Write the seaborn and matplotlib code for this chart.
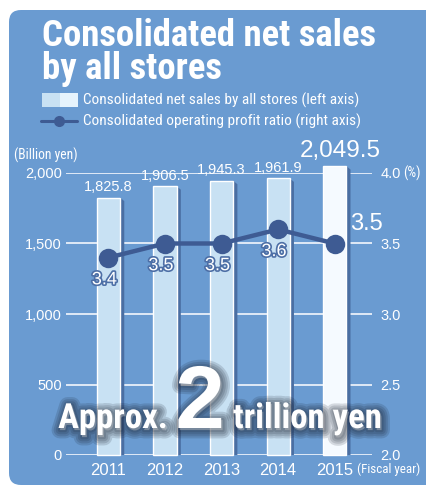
import matplotlib
matplotlib.use("Agg")
import matplotlib.pyplot as plt
from matplotlib.patches import FancyBboxPatch, Rectangle, Polygon
from matplotlib.lines import Line2D
from matplotlib.transforms import Affine2D
import matplotlib.patheffects as pe
import numpy as np
import pandas as pd
import seaborn as sns

# ---- data ----
years = ["2011", "2012", "2013", "2014", "2015"]
net_sales = [1825.8, 1906.5, 1945.3, 1961.9, 2049.5]          # billion yen
profit_ratio = [3.4, 3.5, 3.5, 3.6, 3.5]                       # %
sales_ticks = [0, 500, 1000, 1500, 2000]
ratio_ticks = [2.0, 2.5, 3.0, 3.5, 4.0]

# ---- style ----
W, H = 427, 487
PANEL = "#6a9bd1"
BAR = "#c8e1f3"
BAR_LAST = "#f5faff"
SHADE = "#4a6ea2"
NAVY = "#3e5b93"
GRID = "#e9f0f9"
TXT = "#ffffff"

sns.set_theme(style="white")
plt.rcParams["font.family"] = ["Liberation Sans", "DejaVu Sans"]
NARROW = dict(family=["Roboto Condensed", "Liberation Sans Narrow", "DejaVu Sans"],
              stretch="condensed")

fig = plt.figure(figsize=(W / 100, H / 100), dpi=100)
fig.patch.set_facecolor("white")
# pixel coordinates measured from the top-left corner
pix = Affine2D().scale(1 / W, -1 / H).translate(0, 1) + fig.transFigure

panel = FancyBboxPatch((9, 10), 440, 475, boxstyle="round,pad=0,rounding_size=12",
                       transform=pix, facecolor=PANEL, edgecolor="none", zorder=-5)
fig.patches.append(panel)

ax = fig.add_axes([66 / W, 1 - 455 / H, (372 - 66) / W, (455 - 173) / H])
ax.set_facecolor("none")
for s in ax.spines.values():
    s.set_visible(False)

df = pd.DataFrame({"year": years, "sales": net_sales})
colors = [BAR] * (len(years) - 1) + [BAR_LAST]
sns.barplot(data=df, x="year", y="sales", hue="year", palette=colors, legend=False,
            width=0.41, saturation=1, ax=ax, zorder=3)

for v in sales_ticks:
    ax.axhline(v, color=GRID, lw=1.3, zorder=1)

# dark side face on the right of each bar
for p in ax.patches[:len(years)]:
    p.set_clip_on(False)
    x0 = p.get_x() + p.get_width()
    h = p.get_height()
    d = 0.075
    ax.add_patch(Polygon([(x0, h), (x0 + d, h - 25), (x0 + d, 0), (x0, 0)],
                         closed=True, facecolor=SHADE, edgecolor="none", zorder=2.5,
                         clip_on=False))

ax.set_xlim(-0.75, 4.66)
ax.set_ylim(0, 2000)
ax.set_yticks(sales_ticks)
ax.set_yticklabels([f"{v:,}" for v in sales_ticks])
ax.set_xlabel("")
ax.set_ylabel("")
ax.tick_params(axis="y", length=0, pad=3, labelsize=10.5, labelcolor=TXT)
ax.tick_params(axis="x", length=0, pad=6, labelsize=12, labelcolor=TXT)

# sales value labels
for i, v in enumerate(net_sales):
    last = i == len(net_sales) - 1
    ax.annotate(f"{v:,.1f}", (i, v), xytext=(4 if last else 0, 6.5 if last else 4.5),
                textcoords="offset points", ha="center", va="baseline",
                fontsize=17.5 if last else 10.5, color=TXT, zorder=6,
                annotation_clip=False)

# profit ratio line on the right axis
ax2 = ax.twinx()
ax2.set_facecolor("none")
for s in ax2.spines.values():
    s.set_visible(False)
sns.lineplot(x=np.arange(len(years)), y=profit_ratio, ax=ax2, color=NAVY, lw=3.2,
             marker="o", markersize=14, markeredgewidth=0, sort=False, zorder=5)
ax2.set_ylim(2.0, 4.0)
ax2.set_yticks(ratio_ticks)
ax2.set_yticklabels([f"{v:.1f}" for v in ratio_ticks])
ax2.tick_params(axis="y", length=0, pad=6, labelsize=10.5, labelcolor=TXT)
ax2.set_ylabel("")
ax2.set_xlim(-0.75, 4.66)

outline = [pe.Stroke(linewidth=2.4, foreground="#4d6fa6"), pe.Normal()]
for i, v in enumerate(profit_ratio):
    if i == len(profit_ratio) - 1:
        ax2.annotate(f"{v:.1f}", (i, v), xytext=(23, 9.5), textcoords="offset points",
                     ha="center", va="baseline", fontsize=17, color=TXT,
                     annotation_clip=False)
    else:
        ax2.annotate(f"{v:.1f}", (i, v), xytext=(-3, -16), textcoords="offset points",
                     ha="center", va="center", fontsize=13, color=TXT,
                     path_effects=outline, zorder=7)

# units
fig.text(14 / W, 1 - 155 / H, "(Billion yen)", **NARROW, fontsize=9.8, color=TXT,
         ha="left", va="center")
fig.text(403 / W, 1 - 173 / H, "(%)", **NARROW, fontsize=10, color=TXT,
         ha="left", va="center")
fig.text(357 / W, 1 - 473 / H, "(Fiscal year)", **NARROW, fontsize=9.4, color=TXT,
         ha="left", va="baseline")

# title
fig.text(42 / W, 1 - 46 / H, "Consolidated net sales", **NARROW, weight="bold",
         fontsize=26.5, color=TXT, ha="left", va="baseline")
fig.text(42 / W, 1 - 79 / H, "by all stores", **NARROW, weight="bold",
         fontsize=26.5, color=TXT, ha="left", va="baseline")

# legend
fig.patches.append(Rectangle((42, 93), 18, 14, transform=pix, facecolor=BAR,
                             edgecolor="none", zorder=2))
fig.patches.append(Rectangle((60, 93), 18, 14, transform=pix, facecolor="#e6f3fc",
                             edgecolor="none", zorder=2))
fig.lines.append(Line2D([41, 77], [121, 121], transform=pix, color=NAVY, lw=2.2,
                        zorder=2))
fig.lines.append(Line2D([59], [121], transform=pix, color=NAVY, marker="o",
                        markersize=8, markeredgewidth=0, zorder=2))
fig.text(83 / W, 1 - 100 / H, "Consolidated net sales by all stores (left axis)",
         **NARROW, fontsize=11.1, color=TXT, ha="left", va="center")
fig.text(83 / W, 1 - 121 / H, "Consolidated operating profit ratio (right axis)",
         **NARROW, fontsize=11.1, color=TXT, ha="left", va="center")

# headline with soft dark glow
glow = [pe.Stroke(linewidth=lw, foreground="#141c2a", alpha=0.15, offset=(1, -1.5))
        for lw in (12, 9, 6, 3)]
glow += [pe.Normal()]
base_y = 1 - 428 / H
fig.text(168 / W, base_y, "Approx.", **NARROW, weight="bold", fontsize=25,
         color=TXT, ha="right", va="baseline", path_effects=glow)
fig.text(200 / W, base_y, "2", weight="bold", fontsize=64, color=TXT,
         ha="center", va="baseline", path_effects=glow)
fig.text(233 / W, base_y, "trillion yen", **NARROW, weight="bold", fontsize=25,
         color=TXT, ha="left", va="baseline", path_effects=glow)

fig.savefig("out.png", dpi=100)
